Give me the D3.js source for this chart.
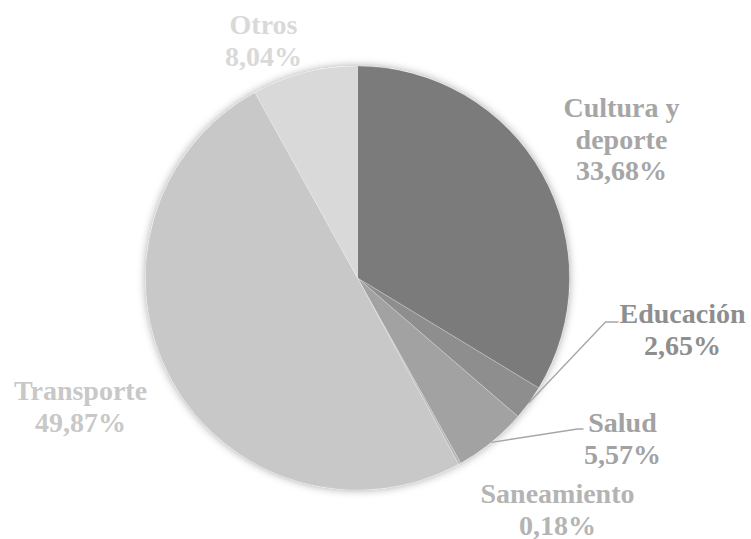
<!DOCTYPE html>
<html>
<head>
<meta charset="utf-8">
<script src="https://cdn.jsdelivr.net/npm/d3@7"></script>
<style>
  body { margin: 0; background: #fff; }
  text { font-family: "Liberation Serif", "Times New Roman", serif; font-weight: bold; font-size: 28px; }
</style>
</head>
<body>
<div id="chart"></div>
<script>
// data
let categories = ["Cultura y\ndeporte", "Educación", "Salud", "Saneamiento", "Transporte", "Otros"];
let values = [33.68, 2.65, 5.57, 0.18, 49.87, 8.04];
let valueLabels = ["33,68%", "2,65%", "5,57%", "0,18%", "49,87%", "8,04%"];

// styles
let sliceColors = ["#7b7b7b", "#8e8e8e", "#a2a2a2", "#b4b4b4", "#c8c8c8", "#d9d9d9"];
let labelColors = ["#a6a6a6", "#8e8e8e", "#a2a2a2", "#b4b4b4", "#c8c8c8", "#d9d9d9"];

let svgWidth = 751;
let svgHeight = 539;
let cx = 357.5, cy = 278, radius = 212;

// label placement, offset of first baseline from pie center
let labelPos = [
    {dx: 264, dy: -161},
    {dx: 325, dy: 45, leader: {ex: 248, ey: 44, hx: 261}},
    {dx: 265, dy: 154, leader: {ex: 220, ey: 151, hx: 226}},
    {dx: 200, dy: 225},
    {dx: -277, dy: 122},
    {dx: -94, dy: -244}
];
let lineHeight = 31.5;

let svg = d3.select("#chart")
    .append("svg")
    .attr("width", svgWidth)
    .attr("height", svgHeight);

let defs = svg.append("defs");
let filter = defs.append("filter")
    .attr("id", "shadow")
    .attr("x", "-20%").attr("y", "-20%")
    .attr("width", "140%").attr("height", "140%");
filter.append("feDropShadow")
    .attr("dx", 0).attr("dy", 0)
    .attr("stdDeviation", 4)
    .attr("flood-color", "#000")
    .attr("flood-opacity", 0.35);

let chartGroup = svg.append("g")
    .attr("transform", `translate(${cx},${cy})`);

let pie = d3.pie().sort(null).value(d => d);
let arcs = pie(values);

let arc = d3.arc().innerRadius(0).outerRadius(radius);

// shadow under the whole pie
chartGroup.append("circle")
    .attr("r", radius)
    .attr("fill", "#fff")
    .attr("filter", "url(#shadow)");

chartGroup.selectAll("path.slice")
    .data(arcs)
    .enter()
    .append("path")
    .attr("class", "slice")
    .attr("d", arc)
    .attr("fill", (d, i) => sliceColors[i])
    .attr("stroke", "#fff")
    .attr("stroke-opacity", 0.35)
    .attr("stroke-width", 0.6);

// leader lines
arcs.forEach(function(d, i) {
    let p = labelPos[i];
    if (!p.leader) return;
    let mid = (d.startAngle + d.endAngle) / 2;
    let sx = Math.sin(mid) * radius;
    let sy = -Math.cos(mid) * radius;
    chartGroup.append("polyline")
        .attr("points", `${sx},${sy} ${p.leader.ex},${p.leader.ey} ${p.leader.hx},${p.leader.ey}`)
        .attr("fill", "none")
        .attr("stroke", "#a6a6a6")
        .attr("stroke-width", 1.3);
});

// labels
arcs.forEach(function(d, i) {
    let p = labelPos[i];
    let lines = categories[i].split("\n").concat([valueLabels[i]]);
    let t = chartGroup.append("text")
        .attr("text-anchor", "middle")
        .attr("fill", labelColors[i]);
    lines.forEach(function(line, j) {
        t.append("tspan")
            .attr("x", p.dx)
            .attr("y", p.dy + j * lineHeight)
            .text(line);
    });
});
</script>
</body>
</html>
